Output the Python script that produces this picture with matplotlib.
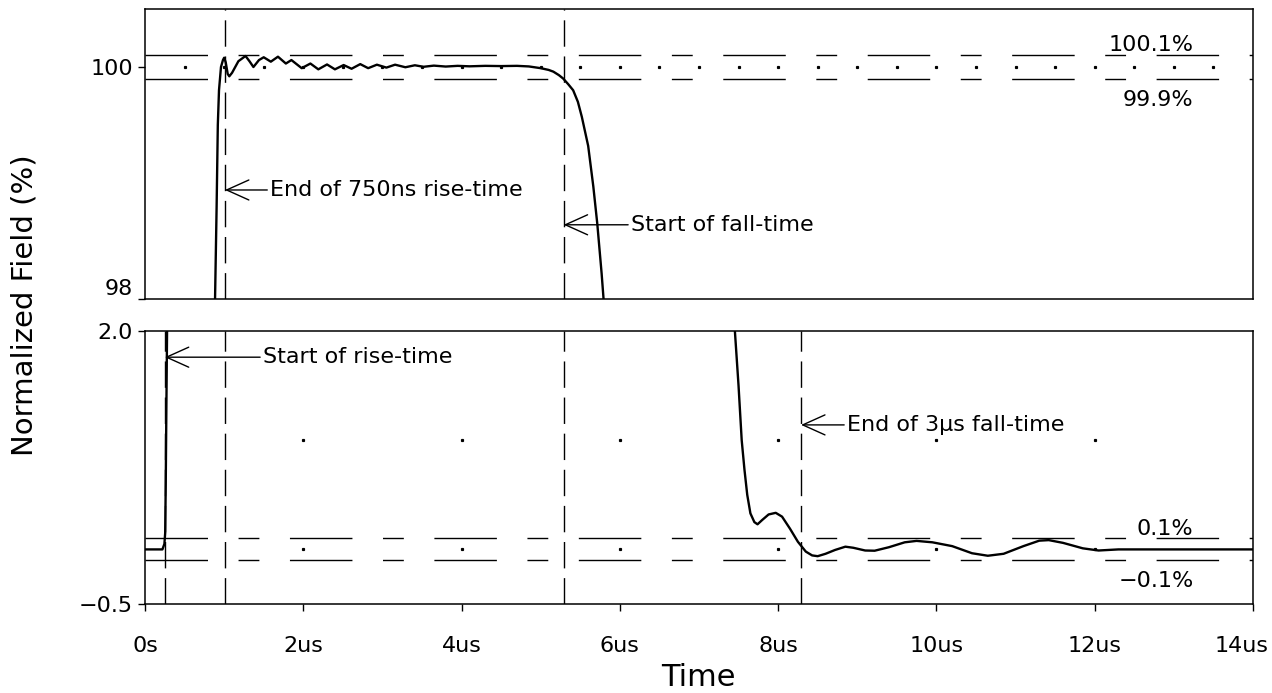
import numpy as np
import matplotlib.pyplot as plt
from matplotlib.transforms import ScaledTranslation

# waveform (time in us, normalized field in %)
time_us = [0.0, 0.22, 0.245, 0.255, 0.262, 0.27, 0.28,
           0.885, 0.905, 0.92, 0.935, 0.96, 0.985, 1.0, 1.02, 1.045, 1.065, 1.1,
           1.18, 1.27, 1.32, 1.37, 1.44, 1.50, 1.59, 1.68, 1.78, 1.85, 1.98,
           2.09, 2.19, 2.30, 2.40, 2.51, 2.61, 2.72, 2.82, 2.93, 3.05, 3.16,
           3.29, 3.41, 3.52, 3.65, 3.80, 3.95, 4.10, 4.30, 4.50, 4.70, 4.85,
           5.00, 5.10, 5.16, 5.23, 5.285, 5.35, 5.41, 5.47, 5.52, 5.60, 5.665,
           5.715, 5.77, 5.80,
           7.44, 7.50, 7.54, 7.575, 7.61, 7.65, 7.70, 7.74, 7.80, 7.88, 7.97,
           8.05, 8.15, 8.25, 8.35, 8.43, 8.50, 8.60, 8.72, 8.85, 8.95, 9.10,
           9.22, 9.40, 9.60, 9.75, 9.95, 10.2, 10.45, 10.65, 10.85, 11.1, 11.3,
           11.42, 11.6, 11.85, 12.05, 12.3, 14.0]
field_pct = [0.0, 0.0, 0.05, 0.15, 0.6, 1.3, 2.1,
             98.0, 98.8, 99.5, 99.8, 100.0, 100.06, 100.08, 100.04, 99.94, 99.92, 99.95,
             100.05, 100.095, 100.05, 100.0, 100.06, 100.084, 100.046, 100.089, 100.03, 100.06, 99.99,
             100.03, 99.98, 100.022, 99.98, 100.017, 99.985, 100.025, 99.99, 100.02, 99.995, 100.02,
             99.998, 100.015, 100.002, 100.012, 100.004, 100.01, 100.006, 100.01, 100.008, 100.01, 100.005,
             99.99, 99.975, 99.96, 99.93, 99.90, 99.85, 99.80, 99.70, 99.57, 99.32, 98.97,
             98.65, 98.22, 97.95,
             2.15, 1.5, 1.0, 0.73, 0.5, 0.33, 0.25, 0.23, 0.27, 0.32, 0.335,
             0.30, 0.19, 0.07, -0.02, -0.055, -0.062, -0.04, -0.005, 0.025, 0.015, -0.01,
             -0.012, 0.02, 0.065, 0.078, 0.065, 0.03, -0.035, -0.058, -0.04, 0.03, 0.08,
             0.085, 0.06, 0.01, -0.01, 0.0, 0.0]

# settling bands
top_band = [99.9, 100.1]
bot_band = [-0.1, 0.1]
top_band_labels = ["99.9%", "100.1%"]
bot_band_labels = ["\u22120.1%", "0.1%"]

# vertical markers (us)
top_marks = [1.01, 5.29]
bot_marks = [0.25, 1.01, 5.29, 8.29]

# annotations: text, arrow tip x, tip y, text x
top_notes = [("End of 750ns rise-time", 1.01, 98.94, 1.58),
             ("Start of fall-time", 5.29, 98.64, 6.14)]
bot_notes = [("Start of rise-time", 0.25, 1.76, 1.49),
             ("End of 3\u03bcs fall-time", 8.29, 1.14, 8.87)]

x_ticks = [0, 2, 4, 6, 8, 10, 12, 14]
x_ticklabels = ["0s", "2us", "4us", "6us", "8us", "10us", "12us", "14us"]

plt.rcParams['font.family'] = ['DejaVu Sans']

fig = plt.figure(figsize=(12.72, 6.93), dpi=100)
ax_top = fig.add_axes([0.114, 0.5685, 0.871, 0.4185])
ax_bot = fig.add_axes([0.114, 0.1284, 0.871, 0.394])

hdash = (0, (45, 22, 15, 22))
vdash = (0, (19, 7))

for ax in (ax_top, ax_bot):
    ax.plot(time_us, field_pct, color='black', lw=1.7, zorder=5)
    ax.set_xlim(0, 14)
    for s in ax.spines.values():
        s.set_linewidth(1.1)
    ax.tick_params(direction='out', length=5, width=1.0, labelsize=16)

# top panel
ax_top.set_ylim(98, 100.5)
for y in top_band:
    ax_top.axhline(y, color='black', lw=1.0, linestyle=hdash)
for x in top_marks:
    ax_top.axvline(x, color='black', lw=1.0, linestyle=vdash)
dots = np.arange(0.5, 14, 0.5)
ax_top.plot(dots, np.full(len(dots), 100.0), ls='none', marker='s', ms=1.3, color='black')
ax_top.set_yticks([98, 100])
ax_top.set_yticklabels(["98", "100"])
ax_top.yaxis.get_major_ticks()[0].label1.set_verticalalignment('bottom')
ax_top.set_xticks(x_ticks)
ax_top.tick_params(axis='x', length=0, labelbottom=False)
ax_top.text(13.25, 100.135, top_band_labels[1], ha='right', va='baseline', fontsize=16)
ax_top.text(13.25, 99.80, top_band_labels[0], ha='right', va='top', fontsize=16)

# bottom panel
ax_bot.set_ylim(-0.5, 2.0)
for y in bot_band:
    ax_bot.axhline(y, color='black', lw=1.0, linestyle=hdash)
for x in bot_marks:
    ax_bot.axvline(x, color='black', lw=1.0, linestyle=vdash)
gx = np.arange(2, 14, 2)
for gy in (0.0, 1.0):
    ax_bot.plot(gx, np.full(len(gx), gy), ls='none', marker='s', ms=1.3, color='black')
ax_bot.set_yticks([-0.5, 2.0])
ax_bot.set_yticklabels(["\u22120.5", "2.0"])
ax_bot.set_xticks(x_ticks)
ax_bot.set_xticklabels(x_ticklabels)
ax_bot.tick_params(axis='x', pad=18)
last = ax_bot.get_xticklabels()[-1]
last.set_transform(last.get_transform() + ScaledTranslation(-8 / 72, 0, fig.dpi_scale_trans))
ax_bot.text(13.25, 0.132, bot_band_labels[1], ha='right', va='baseline', fontsize=16)
ax_bot.text(13.25, -0.2, bot_band_labels[0], ha='right', va='top', fontsize=16)

arrow = dict(arrowstyle='->,head_length=1.0,head_width=0.45', lw=1.0,
             color='black', shrinkA=0, shrinkB=0)
for ax, notes in ((ax_top, top_notes), (ax_bot, bot_notes)):
    for txt, tx, ty, lx in notes:
        ax.annotate(txt, xy=(tx, ty), xytext=(lx, ty), ha='left', va='center',
                    fontsize=16, arrowprops=arrow, zorder=6)

fig.text(0.019, 0.56, "Normalized Field (%)", rotation=90, ha='center', va='center', fontsize=21)
fig.text(0.549, 0.022, "Time", ha='center', va='center', fontsize=22)

fig.savefig("out.png", dpi=100)
